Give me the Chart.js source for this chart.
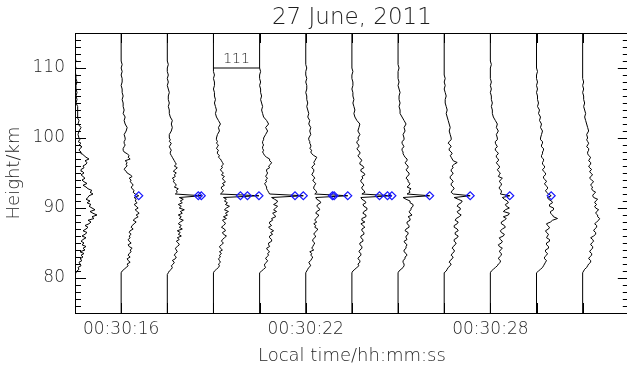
<!DOCTYPE html>
<html><head><meta charset="utf-8">
<script src="https://cdn.jsdelivr.net/npm/chart.js@4.4.1/dist/chart.umd.min.js"></script>
<style>html,body{margin:0;padding:0;background:#fff;overflow:hidden;width:627px;height:369px}canvas{display:block}</style>
</head><body>
<canvas id="c" width="640" height="369"></canvas>
<script>
const chartTitle = '27 June, 2011';
const xTitle = 'Local time/hh:mm:ss';
const yTitle = 'Height/km';
const timeMin = 14.5, timeMax = 32.5;          // seconds after 00:30:00
const xLabelTicks = [16, 22, 28];
const yLabelTicks = [80, 90, 100, 110];
const heightMin = 75, heightMax = 115;
const profileTimes = [14.5, 16, 17.5, 19, 20.5, 22, 23.5, 25, 26.5, 28, 29.5, 31];
const heightsKm = [75,
  80.5, 80.75, 81, 81.25, 81.5, 81.75, 82, 82.25, 82.5, 82.75,
  83, 83.25, 83.5, 83.75, 84, 84.25, 84.5, 84.75, 85, 85.25,
  85.5, 85.75, 86, 86.25, 86.5, 86.75, 87, 87.25, 87.5, 87.75,
  88, 88.25, 88.5, 88.75, 89, 89.25, 89.5, 89.75, 90, 90.25,
  90.5, 90.75, 91, 91.25, 91.5, 91.75, 92, 92.25, 92.5, 92.75,
  93, 93.25, 93.5, 93.75, 94, 94.25, 94.5, 94.75, 95, 95.25,
  95.5, 95.75, 96, 96.25, 96.5, 96.75, 97, 97.25, 97.5, 97.75,
  98, 98.25, 98.5, 98.75, 99, 99.25, 99.5, 99.75, 100,
  100.5, 101, 101.5, 102, 102.5, 103, 103.5, 104, 104.5, 105,
  105.5, 106, 106.5, 107, 107.5, 108, 108.5, 109, 109.5, 110,
  110.5, 111, 111.5, 112,
  115];
// relative Na signal of each profile, one value per height above
const p00 = [0, 0,1,2,4,3,6,5,4,7,5, 8,6,9,5,10,8,11,7,9,6, 8,11,7,10,12,8,11,13,10,14, 16,13,19,17,22,18,15,20,17,14, 16,12,15,11,13,14,18,15,17,13, 11,8,12,9,7,10,8,6,9,7, 6,9,8,11,12,10,14,11,9,7, 6,4,5,7,4,6,3,5,4, 3,4,6,3,4,2,3,2,3,1, 2,1,2,1,1,2,1,1,0,1, 0,1,0,0, 0];
const p01 = [0, 0,0,1,3,5,7,6,9,7,6, 9,7,8,10,9,11,8,7,10,8, 7,9,8,10,8,9,12,10,11,13, 15,12,14,17,15,18,16,14,17,15, 13,16,14,15,13,17.6,14,12,13,11, 10,12,11,9,10,8,11,9,6,5, 3,4,6,5,6,4,9,7,8,6, 3,2,2,3,4,3,3,4,4, 3,5,6,4,3,4,2,3,2,2, 1,2,1,1,0,1,1,0,1,0, 1,0,0,0, 0];
const p02 = [0, 0,1,2,4,5,4,6,7,5,8, 9,7,8,10,9,8,10,12,11,9, 12,10,14,11,13,10,15,12,14,11, 13,16,12,14,11,15,13,17,12,14, 11,15,13,16,12,34,8,10,9,11, 7,9,8,6,7,5,8,7,9,6, 8,10,7,9,8,7,6,5,4,3, 3,4,3,2,3,4,2,3,2, 2,4,5,4,5,3,2,2,1,2, 1,1,2,1,0,1,0,1,0,0, 1,0,0,0, 0];
const p03 = [0, 0,0,1,3,5,6,5,7,6,5, 7,6,8,6,9,7,6,8,10,8, 9,11,13,10,9,12,11,8,10,12, 11,9,13,10,14,12,15,11,13,16, 12,14,11,13,10,45.5,7,9,10,8, 8,11,9,12,10,9,11,8,10,8, 7,9,8,10,9,8,7,5,6,4, 4,5,3,4,5,3,4,3,3, 4,6,5,7,5,3,2,3,2,1, 2,1,1,0,1,1,0,1,0,0, 0,0,0,0, 0];
const p04 = [0, 0,0,2,4,6,5,5,7,8,6, 7,9,8,10,8,7,10,9,9,12, 12,10,10,13,11,14,11,9,12,10, 10,13,12,16,15,13,17,14,16,18, 14,17,18,15,12,43.7,10,9,8,7, 7,6,5,7,6,8,6,7,8,7, 7,10,9,11,12,10,10,7,5,4, 3,4,3,3,4,3,3,4,4, 6,8,6,9,7,4,3,2,3,2, 1,2,1,1,0,1,0,0,1,0, 0,0,0,0, 0];
const p05 = [0, 0,0,1,2,3,5,4,3,5,6, 7,5,6,4,8,6,7,8,9,7, 7,9,10,8,9,11,12,9,10,8, 11,9,10,12,13,10,11,14,13,11, 12,15,14,11,10,42,9,11,10,8, 8,9,10,8,7,9,8,6,7,8, 8,6,7,9,8,9,10,11,8,6, 5,6,4,5,5,4,4,3,3, 5,4,5,3,4,2,3,2,1,2, 1,1,0,1,1,0,1,0,0,1, 0,0,0,0, 0];
const p06 = [0, 0,0,1,3,5,7,6,8,8,6, 7,9,9,7,8,10,10,8,8,11, 11,9,9,12,12,10,10,13,11,9, 13,10,10,14,14,11,12,15,15,12, 11,14,13,10,9,40,10,13,12,10, 10,12,11,9,9,11,10,13,12,9, 9,12,11,8,8,10,9,7,6,8, 8,6,5,7,7,5,5,7,6, 8,6,7,8,5,3,2,3,2,1, 2,1,1,0,1,1,0,0,1,0, 0,0,0,0, 0];
const p07 = [0, 0,0,1,3,5,6,6,5,5,7, 7,9,8,6,6,8,8,9,7,6, 9,8,8,10,10,7,8,11,11,9, 9,12,12,10,14,12,11,13,13,15, 15,12,12,8,5,31.6,9,12,11,13, 9,11,12,10,10,8,9,11,11,9, 8,10,10,8,7,9,9,7,6,5, 5,4,4,6,5,4,4,6,6, 5,7,6,8,6,4,2,2,1,2, 1,1,2,1,0,1,0,0,0,1, 0,0,0,0, 0];
const p08 = [0, 0,0,2,3,4,6,7,5,6,8, 9,7,8,10,10,8,9,11,12,10, 10,13,14,11,11,14,13,10,10,13, 14,11,12,15,17,14,13,16,16,13, 14,17,18,14,10,26,9,7,8,10, 9,7,7,9,8,6,6,8,9,7, 7,9,8,10,13,9,8,7,6,8, 7,5,5,7,6,4,5,7,7, 6,5,6,5,4,3,2,3,2,1, 1,2,1,0,1,0,1,0,0,0, 0,0,0,0, 0];
const p09 = [0, 0,0,1,3,5,7,8,10,10,8, 9,11,11,9,10,12,9,8,11,12, 10,9,13,14,11,10,12,15,14,11, 11,14,16,13,18,19,13,15,19,16, 15,18,17,14,12,19.4,10,11,11,9, 9,11,11,9,10,12,8,9,10,8, 7,9,9,7,6,8,8,6,6,8, 7,5,5,7,6,5,5,7,7, 6,8,6,7,5,3,2,2,1,2, 1,1,0,1,0,1,0,0,0,0, 1,0,0,0, 0];
const p10 = [0, 0,0,2,4,6,7,8,9,10,8, 8,10,11,9,9,12,12,10,10,13, 13,10,11,12,10,9,12,13,11,10, 14,16,21,17,16,14,14,17,17,13, 13,16,15,12,11,14.7,12,10,9,11, 11,9,8,10,9,7,7,9,9,7, 6,8,8,6,6,7,7,5,5,6, 6,7,7,5,5,6,6,4,4, 5,6,4,5,3,4,2,3,1,2, 1,1,0,1,0,1,0,0,1,0, 0,0,0,0, 0];
const p11 = [0, 0,0,1,2,4,5,6,8,8,6, 7,9,9,7,8,10,10,8,9,11, 10,8,11,13,13,11,12,14,14,12, 14,16,17,15,15,13,14,16,13,12, 14,12,13,15,11,10,11,13,10,9, 10,8,9,11,9,7,8,10,8,7, 9,7,6,8,8,6,7,8,6,5, 5,6,6,4,5,6,5,4,5, 4,6,5,4,3,2,3,2,1,2, 1,1,0,1,0,1,0,0,0,0, 0,0,0,0, 0];
const profiles = [p00, p01, p02, p03, p04, p05, p06, p07, p08, p09, p10, p11];
const peakHeightKm = 91.75;
const peakSignals = [[], [17.6], [31, 34], [27, 34, 45.5], [35.4, 43.7], [26.7, 28.4, 42], [27.6, 35.6, 40], [31.6], [26], [19.4], [14.7], []];
const boxLabel = '111';
const boxTimes = [19, 20.5];
const boxBottomKm = 110, boxLabelKm = 111.3;
const signalPerSpacing = 46.15;   // signal units spanning one profile spacing (1.5 s)

const FONT = "'DejaVu Sans', sans-serif";
const WEIGHT = '200';
const TXT = '#1e1e1e';
const toSec = v => v * 1.5 / signalPerSpacing;

const datasets = [];
profiles.forEach((sig, k) => {
  datasets.push({
    data: heightsKm.map((h, i) => ({x: profileTimes[k] + toSec(sig[i]), y: h})),
    showLine: true, borderColor: '#000', borderWidth: 1, pointRadius: 0, tension: 0, order: 2
  });
});
datasets.push({
  data: [{x: boxTimes[0], y: boxBottomKm}, {x: boxTimes[1], y: boxBottomKm}],
  showLine: true, borderColor: '#000', borderWidth: 1, pointRadius: 0, order: 2
});
peakSignals.forEach((arr, k) => {
  if (!arr.length) return;
  datasets.push({
    data: arr.map(v => ({x: profileTimes[k] + toSec(v), y: peakHeightKm})),
    showLine: false, pointStyle: 'rectRot', pointRadius: 4, pointBorderWidth: 1.2,
    pointBorderColor: '#1a1aff', pointBackgroundColor: 'rgba(0,0,0,0)', order: 0
  });
});

const axisTicks = {
  id: 'axisTicks',
  afterDraw(chart) {
    const {ctx, chartArea: a, scales: {x, y}} = chart;
    ctx.save();
    ctx.strokeStyle = '#000'; ctx.lineWidth = 1;
    ctx.beginPath();
    for (let v = heightMin; v <= heightMax; v += 1) {
      const py = Math.round(y.getPixelForValue(v)) + 0.5;
      const len = yLabelTicks.includes(v) ? 11 : 6;
      ctx.moveTo(a.left, py); ctx.lineTo(a.left + len, py);
      ctx.moveTo(a.right, py); ctx.lineTo(a.right - len, py);
    }
    profileTimes.forEach(t => {
      const px = Math.round(x.getPixelForValue(t)) + 0.5;
      ctx.moveTo(px, a.bottom); ctx.lineTo(px, a.bottom - 10);
      ctx.moveTo(px, a.top); ctx.lineTo(px, a.top + 10);
    });
    ctx.stroke();
    ctx.fillStyle = TXT;
    ctx.font = WEIGHT + ' 14px ' + FONT;
    ctx.textAlign = 'center'; ctx.textBaseline = 'middle';
    ctx.fillText(boxLabel, x.getPixelForValue((boxTimes[0] + boxTimes[1]) / 2), y.getPixelForValue(boxLabelKm));
    ctx.restore();
  }
};

new Chart(document.getElementById('c'), {
  type: 'scatter',
  data: {datasets},
  options: {
    responsive: false, animation: false, events: [],
    layout: {padding: {left: 0, right: 11.2, top: 0, bottom: 0}},
    plugins: {
      legend: {display: false}, tooltip: {enabled: false},
      title: {display: true, text: chartTitle, fullSize: false, color: TXT,
        font: {family: FONT, size: 23, weight: WEIGHT, lineHeight: 1.2}, padding: {top: 4, bottom: 1.4}}
    },
    scales: {
      x: {
        type: 'linear', position: 'bottom', min: timeMin, max: timeMax,
        afterBuildTicks: s => { s.ticks = xLabelTicks.map(v => ({value: v})); },
        afterFit: s => { s.height = 56; },
        ticks: {callback: v => '00:30:' + String(v).padStart(2, '0'), color: TXT, padding: 6,
          font: {family: FONT, size: 17, weight: WEIGHT}, maxRotation: 0, autoSkip: false},
        grid: {display: false, drawTicks: false},
        border: {display: true, color: '#000', width: 1},
        title: {display: true, text: xTitle, color: TXT, font: {family: FONT, size: 18, weight: WEIGHT, lineHeight: 1.2}, padding: {top: 0, bottom: 2.2}}
      },
      y: {
        type: 'linear', position: 'left', min: heightMin, max: heightMax,
        afterBuildTicks: s => { s.ticks = yLabelTicks.map(v => ({value: v})); },
        afterFit: s => { s.width = 75; },
        ticks: {color: TXT, padding: 10, font: {family: FONT, size: 17, weight: WEIGHT}},
        grid: {display: false, drawTicks: false},
        border: {display: true, color: '#000', width: 1},
        title: {display: true, text: yTitle, color: TXT, font: {family: FONT, size: 18, weight: WEIGHT, lineHeight: 1.2}, padding: {top: 3.2, bottom: 0}}
      },
      x2: {
        type: 'linear', position: 'top', min: timeMin, max: timeMax,
        ticks: {display: false}, grid: {display: false, drawTicks: false},
        border: {display: true, color: '#000', width: 1},
        afterFit: s => { s.height = 0; }
      },
      y2: {
        type: 'linear', position: 'right', min: heightMin, max: heightMax,
        ticks: {display: false}, grid: {display: false, drawTicks: false},
        border: {display: true, color: '#000', width: 1},
        afterFit: s => { s.width = 0; }
      }
    }
  },
  plugins: [axisTicks]
});
</script>
</body></html>
